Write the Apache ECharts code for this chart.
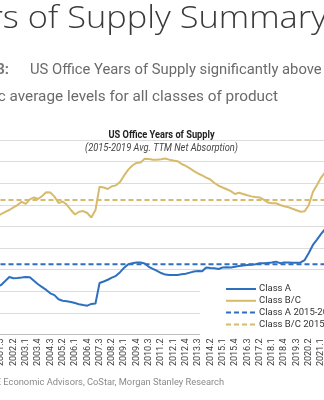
<!DOCTYPE html>
<html>
<head>
<meta charset="utf-8">
<script src="https://cdn.jsdelivr.net/npm/echarts@6/dist/echarts.min.js"></script>
<style>
html,body{margin:0;padding:0;background:#fff;overflow:hidden;width:324px;height:400px;}
#chart{position:absolute;left:-28px;top:0;width:354px;height:400px;}
</style>
</head>
<body>
<div id="chart"></div>
<script>
var categories = [
 '2000.1','2000.2','2000.3','2000.4','2001.1','2001.2','2001.3','2001.4',
 '2002.1','2002.2','2002.3','2002.4','2003.1','2003.2','2003.3','2003.4',
 '2004.1','2004.2','2004.3','2004.4','2005.1','2005.2','2005.3','2005.4',
 '2006.1','2006.2','2006.3','2006.4','2007.1','2007.2','2007.3','2007.4',
 '2008.1','2008.2','2008.3','2008.4','2009.1','2009.2','2009.3','2009.4',
 '2010.1','2010.2','2010.3','2010.4','2011.1','2011.2','2011.3','2011.4',
 '2012.1','2012.2','2012.3','2012.4','2013.1','2013.2','2013.3','2013.4',
 '2014.1','2014.2','2014.3','2014.4','2015.1','2015.2','2015.3','2015.4',
 '2016.1','2016.2','2016.3','2016.4','2017.1','2017.2','2017.3','2017.4',
 '2018.1','2018.2','2018.3','2018.4','2019.1','2019.2','2019.3','2019.4',
 '2020.1','2020.2','2020.3','2020.4','2021.1','2021.2'
];
var classA = [
 1.96,2.01,2.06,2.10,2.15,2.19,2.29,2.47,2.66,2.60,2.61,2.63,2.66,2.65,2.48,2.32,
 2.19,2.06,1.90,1.82,1.63,1.56,1.53,1.50,1.45,1.40,1.36,1.33,1.41,1.43,2.38,2.45,
 2.53,2.63,2.71,2.88,3.09,3.25,3.29,3.33,3.33,3.28,3.13,3.03,2.94,2.84,2.77,2.75,
 2.75,2.75,2.78,2.81,2.86,2.91,2.93,2.92,3.10,3.07,3.06,3.03,3.10,3.11,3.10,3.13,
 3.17,3.19,3.21,3.23,3.25,3.29,3.29,3.31,3.33,3.37,3.30,3.33,3.33,3.32,3.32,3.33,
 3.44,3.77,4.14,4.39,4.65,4.88
];
var classBC = [
 5.39,5.48,5.30,5.53,5.57,5.48,5.57,5.67,5.76,5.88,5.99,6.14,6.04,6.25,6.34,6.27,
 6.41,6.58,6.57,6.38,6.08,6.15,6.01,5.76,5.55,5.68,5.71,5.62,5.41,5.76,6.84,6.80,
 6.73,6.86,6.90,7.06,7.36,7.63,7.82,7.94,7.96,8.13,8.12,8.09,8.09,8.11,8.14,8.09,
 8.05,8.02,7.89,7.80,7.69,7.56,7.45,7.36,7.26,7.17,7.01,6.89,6.80,6.72,6.63,6.50,
 6.56,6.50,6.44,6.39,6.36,6.34,6.24,6.11,6.07,6.07,5.99,5.93,5.89,5.82,5.75,5.68,
 5.70,5.99,6.59,6.92,7.26,7.52
];
var avgClassA = 3.25;
var avgClassBC = 6.22;
var seriesNames = ['Class A','Class B/C','Class A 2015-2019 Avg.','Class B/C 2015-2019 Avg.'];

var BLUE = '#2f6fbf';
var GOLD = '#d6bb6c';
var OX = 28; // container is shifted 28px left of the window

var avgA = categories.map(function(){ return avgClassA; });
var avgBC = categories.map(function(){ return avgClassBC; });

function txt(text, x, y, font, fill, align, sx) {
  return { type: 'text', z: 10, x: x + OX, y: y, scaleX: sx || 1,
    style: { text: text, x: 0, y: 0, textAlign: align, textVerticalAlign: 'middle', font: font, fill: fill } };
}

var chart = echarts.init(document.getElementById('chart'), null, {renderer:'canvas'});
chart.setOption({
  animation: false,
  backgroundColor: '#fff',
  grid: { left: 0.7, right: 0.8, top: 140, bottom: 65.6, containLabel: false },
  xAxis: {
    type: 'category',
    data: categories,
    boundaryGap: false,
    axisLine: { lineStyle: { color: '#bdbdbd', width: 1 } },
    axisTick: { show: false },
    axisLabel: { interval: 2, rotate: 90, fontSize: 9, color: '#3a3a3a', fontFamily: 'Roboto, sans-serif', margin: 4 },
    splitLine: { show: false }
  },
  yAxis: {
    type: 'value', min: 0, max: 9, interval: 1,
    axisLabel: { show: false },
    axisLine: { show: false }, axisTick: { show: false },
    splitLine: { lineStyle: { color: '#dcdcdc', width: 1 } }
  },
  legend: {
    data: seriesNames,
    orient: 'vertical',
    left: 200 + OX, top: 276,
    padding: [8, 40, 6, 25],
    backgroundColor: '#fff',
    itemWidth: 30, itemHeight: 9, itemGap: 1.8,
    itemStyle: { opacity: 0 },
    textStyle: { fontSize: 9.5, color: '#333', fontFamily: 'Roboto, sans-serif', padding: [0,0,0,-2] }
  },
  series: [
    { name: seriesNames[0], type: 'line', data: classA, symbol: 'none', z: 4,
      lineStyle: { color: BLUE, width: 2 }, itemStyle: { color: BLUE } },
    { name: seriesNames[1], type: 'line', data: classBC, symbol: 'none', z: 4,
      lineStyle: { color: GOLD, width: 2 }, itemStyle: { color: GOLD } },
    { name: seriesNames[2], type: 'line', data: avgA, symbol: 'none', z: 3,
      lineStyle: { color: BLUE, width: 2, type: [5, 3] }, itemStyle: { color: BLUE } },
    { name: seriesNames[3], type: 'line', data: avgBC, symbol: 'none', z: 3,
      lineStyle: { color: GOLD, width: 2, type: [5, 3] }, itemStyle: { color: GOLD } }
  ],
  graphic: [
    txt('Years of Supply Summary', 327, 19, "300 32px 'Open Sans', sans-serif", '#3a3a3a', 'right', 1.075),
    txt('Exhibit 3:', 9, 70, "bold 15px Roboto, sans-serif", '#777', 'right', 1.0),
    txt('US Office Years of Supply significantly above', 30, 70, "15px Roboto, sans-serif", '#6a6a6a', 'left', 0.985),
    txt('historic average levels for all classes of product', 278, 97, "15px Roboto, sans-serif", '#6a6a6a', 'right', 1.02),
    txt('US Office Years of Supply', 161.5, 135, "bold 11px Roboto, sans-serif", '#222', 'center', 0.84),
    txt('(2015-2019 Avg. TTM Net Absorption)', 161.5, 148, "italic 10px Roboto, sans-serif", '#444', 'center', 0.93),
    txt('Source: CBRE Economic Advisors, CoStar, Morgan Stanley Research', 224, 383, "9.3px Roboto, sans-serif", '#8a8a8a', 'right')
  ]
});
</script>
</body>
</html>
